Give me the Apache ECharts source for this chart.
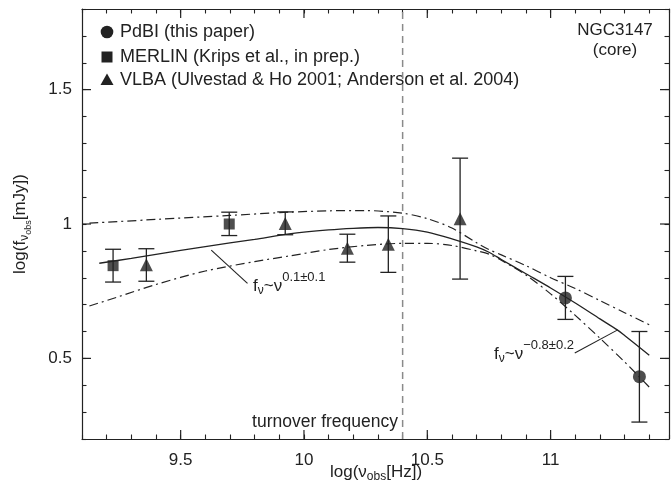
<!DOCTYPE html>
<html>
<head>
<meta charset="utf-8">
<script src="https://cdn.jsdelivr.net/npm/echarts@6/dist/echarts.min.js"></script>
<style>
  html, body { margin: 0; padding: 0; background: #fff; }
  #chart { width: 672px; height: 482px; }
</style>
</head>
<body>
<div id="chart"></div>
<script>
// ---- measurements: log frequency [Hz], log flux [mJy], error range ----
const pdbiFreq  = [11.06, 11.36];
const pdbiFlux  = [0.725, 0.432];
const pdbiLow   = [0.645, 0.263];
const pdbiHigh  = [0.805, 0.600];

const merlinFreq = [9.226, 9.697];
const merlinFlux = [0.845, 1.000];
const merlinLow  = [0.784, 0.957];
const merlinHigh = [0.906, 1.044];

const vlbaFreq = [9.361, 9.924, 10.176, 10.342, 10.633];
const vlbaFlux = [0.848, 1.002, 0.910, 0.925, 1.020];
const vlbaLow  = [0.787, 0.960, 0.858, 0.820, 0.795];
const vlbaHigh = [0.908, 1.045, 0.962, 1.030, 1.245];

// ---- fitted broken power law and its uncertainty envelope ----
const fitFreq = [9.17, 9.3, 9.4, 9.6, 9.8, 9.94, 10.1, 10.2, 10.3, 10.4, 10.5, 10.6, 10.7, 10.75, 10.8, 10.9, 11.0, 11.1, 11.2, 11.27, 11.3, 11.4];
const fitFlux = [0.854, 0.872, 0.887, 0.916, 0.943, 0.963, 0.978, 0.984, 0.987, 0.983, 0.970, 0.945, 0.915, 0.895, 0.868, 0.815, 0.762, 0.706, 0.647, 0.606, 0.585, 0.512];

const upperFreq = [9.13, 9.4, 9.7, 9.94, 10.1, 10.25, 10.4, 10.5, 10.6, 10.7, 10.75, 10.8, 10.9, 11.0, 11.1, 11.2, 11.3, 11.4];
const upperFlux = [1.003, 1.017, 1.032, 1.044, 1.049, 1.050, 1.040, 1.020, 0.985, 0.930, 0.905, 0.885, 0.845, 0.800, 0.760, 0.715, 0.670, 0.625];

const lowerFreq = [9.13, 9.25, 9.4, 9.6, 9.8, 9.94, 10.1, 10.25, 10.4, 10.5, 10.6, 10.7, 10.75, 10.8, 10.9, 11.0, 11.1, 11.2, 11.3, 11.4];
const lowerFlux = [0.695, 0.730, 0.775, 0.825, 0.860, 0.881, 0.905, 0.920, 0.928, 0.928, 0.920, 0.900, 0.888, 0.865, 0.810, 0.740, 0.660, 0.575, 0.487, 0.393];

// turnover frequency marker
const turnoverFreq = 10.4;

// pointer lines from the slope labels to the fit
const lowSlopePointer  = [[9.624, 0.903], [9.771, 0.779]];
const highSlopePointer = [[11.098, 0.520], [11.272, 0.606]];

// axis ranges and labelled ticks
const xMin = 9.1, xMax = 11.48, yMin = 0.2, yMax = 1.8;
const xMajorTicks = [9.5, 10, 10.5, 11];
const yMajorTicks = [0.5, 1, 1.5];

const INK = '#222';
const FONT = '"Liberation Sans", Arial, sans-serif';

const zip = (a, b) => a.map((v, i) => [v, b[i]]);
const zip3 = (a, b, c) => a.map((v, i) => [v, b[i], c[i]]);

const measureCtx = document.createElement('canvas').getContext('2d');
function textWidth(str, size) {
  measureCtx.font = size + 'px ' + FONT;
  return measureCtx.measureText(str).width;
}
// lay out text pieces (main text, sub/superscripts) on one baseline
function composite(parts, anchor) {
  const total = parts.reduce((s, p) => s + textWidth(p[0], p[1]), 0);
  let x = anchor === 'center' ? -total / 2 : anchor === 'right' ? -total : 0;
  const out = [];
  for (const [t, size, dy] of parts) {
    out.push({
      type: 'text', x: x, y: dy,
      style: { text: t, font: size + 'px ' + FONT, fill: INK,
               align: 'left', verticalAlign: 'middle', textAlign: 'left', textVerticalAlign: 'middle' }
    });
    x += textWidth(t, size);
  }
  return out;
}
function label(text, x, y, size, align) {
  return { type: 'text', x: x, y: y,
    style: { text: text, font: size + 'px ' + FONT, fill: INK,
             align: align, verticalAlign: 'middle', textAlign: align, textVerticalAlign: 'middle' } };
}

function errorBars(params, api) {
  const x = api.value(0);
  const lo = api.coord([x, api.value(1)]);
  const hi = api.coord([x, api.value(2)]);
  const w = 8;
  const st = { stroke: INK, lineWidth: 1.3 };
  return { type: 'group', children: [
    { type: 'line', shape: { x1: lo[0], y1: lo[1], x2: hi[0], y2: hi[1] }, style: st },
    { type: 'line', shape: { x1: lo[0] - w, y1: lo[1], x2: lo[0] + w, y2: lo[1] }, style: st },
    { type: 'line', shape: { x1: hi[0] - w, y1: hi[1], x2: hi[0] + w, y2: hi[1] }, style: st }
  ]};
}

const MAJOR = 9;
function xMajor(params, api) {
  const v = api.value(0);
  const b = api.coord([v, yMin]), t = api.coord([v, yMax]);
  const st = { stroke: INK, lineWidth: 1.2 };
  return { type: 'group', children: [
    { type: 'line', shape: { x1: b[0], y1: b[1], x2: b[0], y2: b[1] - MAJOR }, style: st },
    { type: 'line', shape: { x1: t[0], y1: t[1], x2: t[0], y2: t[1] + MAJOR }, style: st }
  ]};
}
function yMajor(params, api) {
  const v = api.value(1);
  const l = api.coord([xMin, v]), r = api.coord([xMax, v]);
  const st = { stroke: INK, lineWidth: 1.2 };
  return { type: 'group', children: [
    { type: 'line', shape: { x1: l[0], y1: l[1], x2: l[0] + MAJOR, y2: l[1] }, style: st },
    { type: 'line', shape: { x1: r[0], y1: r[1], x2: r[0] - MAJOR, y2: r[1] }, style: st }
  ]};
}

const halfStep = v => Math.abs(v * 2 - Math.round(v * 2)) < 1e-6;
const tickText = v => halfStep(v) ? String(Math.round(v * 10) / 10) : '';

const axisCommon = {
  type: 'value', interval: 0.1, splitLine: { show: false },
  axisLine: { show: true, onZero: false, lineStyle: { color: INK, width: 1.2 } },
  axisTick: { show: true, inside: true, length: 4.5, lineStyle: { color: INK, width: 1.1 } }
};

const dashDot = [9, 4, 2, 4];

const option = {
  animation: false,
  grid: { left: 82, right: 1, top: 9, bottom: 43 },
  xAxis: [
    Object.assign({}, axisCommon, { min: xMin, max: xMax, position: 'bottom',
      axisLabel: { show: true, margin: 13, formatter: tickText, color: INK, fontSize: 17, fontFamily: FONT } }),
    Object.assign({}, axisCommon, { min: xMin, max: xMax, position: 'top', axisLabel: { show: false } })
  ],
  yAxis: [
    Object.assign({}, axisCommon, { min: yMin, max: yMax, position: 'left',
      axisLabel: { show: true, margin: 10, formatter: tickText, color: INK, fontSize: 17, fontFamily: FONT } }),
    Object.assign({}, axisCommon, { min: yMin, max: yMax, position: 'right', axisLabel: { show: false } })
  ],
  series: [
    { type: 'custom', name: 'xmajor', renderItem: xMajor, data: xMajorTicks.map(v => [v, yMin]), clip: false, silent: true },
    { type: 'custom', name: 'ymajor', renderItem: yMajor, data: yMajorTicks.map(v => [xMin, v]), clip: false, silent: true },
    { type: 'line', name: 'turnover', data: [[turnoverFreq, yMin], [turnoverFreq, yMax]], symbol: 'none',
      lineStyle: { color: '#8a8a8a', width: 1.5, type: [7, 5] } },
    { type: 'line', name: 'fit', data: zip(fitFreq, fitFlux), symbol: 'none', smooth: 0.3,
      lineStyle: { color: INK, width: 1.3 } },
    { type: 'line', name: 'upper', data: zip(upperFreq, upperFlux), symbol: 'none', smooth: 0.3,
      lineStyle: { color: INK, width: 1.2, type: dashDot } },
    { type: 'line', name: 'lower', data: zip(lowerFreq, lowerFlux), symbol: 'none', smooth: 0.3,
      lineStyle: { color: INK, width: 1.2, type: dashDot } },
    { type: 'line', name: 'lowPointer', data: lowSlopePointer, symbol: 'none', lineStyle: { color: INK, width: 1.1 } },
    { type: 'line', name: 'highPointer', data: highSlopePointer, symbol: 'none', lineStyle: { color: INK, width: 1.1 } },
    { type: 'custom', name: 'errPdBI', renderItem: errorBars, data: zip3(pdbiFreq, pdbiLow, pdbiHigh), encode: { x: 0, y: [1, 2] } },
    { type: 'custom', name: 'errMERLIN', renderItem: errorBars, data: zip3(merlinFreq, merlinLow, merlinHigh), encode: { x: 0, y: [1, 2] } },
    { type: 'custom', name: 'errVLBA', renderItem: errorBars, data: zip3(vlbaFreq, vlbaLow, vlbaHigh), encode: { x: 0, y: [1, 2] } },
    { type: 'scatter', name: 'PdBI', data: zip(pdbiFreq, pdbiFlux), symbol: 'circle', symbolSize: 13, itemStyle: { color: INK } },
    { type: 'scatter', name: 'MERLIN', data: zip(merlinFreq, merlinFlux), symbol: 'rect', symbolSize: 11, itemStyle: { color: INK } },
    { type: 'scatter', name: 'VLBA', data: zip(vlbaFreq, vlbaFlux), symbol: 'triangle', symbolSize: 13, itemStyle: { color: INK } }
  ],
  graphic: [
    // legend
    { type: 'circle', shape: { cx: 107, cy: 32, r: 6.3 }, style: { fill: INK } },
    { type: 'rect', shape: { x: 101.5, y: 51.5, width: 11, height: 11 }, style: { fill: INK } },
    { type: 'polygon', shape: { points: [[107, 73.5], [113.5, 85], [100.5, 85]] }, style: { fill: INK } },
    label('PdBI (this paper)', 120, 32, 18, 'left'),
    label('MERLIN (Krips et al., in prep.)', 120, 57, 18, 'left'),
    label('VLBA (Ulvestad & Ho 2001; Anderson et al. 2004)', 120, 80, 18, 'left'),
    // source name
    label('NGC3147', 615, 30, 17, 'center'),
    label('(core)', 615, 50, 17, 'center'),
    // turnover
    label('turnover frequency', 398, 422, 17.5, 'right'),
    // slope annotations
    { type: 'group', x: 253, y: 286, children: composite([['f', 17, 0], ['\u03bd', 12, 5], ['~\u03bd', 17, 0], ['0.1\u00b10.1', 13, -9]], 'left') },
    { type: 'group', x: 574, y: 354, children: composite([['f', 17, 0], ['\u03bd', 12, 5], ['~\u03bd', 17, 0], ['\u22120.8\u00b10.2', 13, -9]], 'right') },
    // axis titles
    { type: 'group', x: 376, y: 472, children: composite([['log(\u03bd', 17, 0], ['obs', 12, 5], ['[Hz])', 17, 0]], 'center') },
    { type: 'group', x: 20, y: 224, rotation: Math.PI / 2,
      children: composite([['log(f', 17, 0], ['\u03bd', 12, 5], ['obs', 9, 9], ['[mJy])', 17, 0]], 'center') }
  ]
};

echarts.init(document.getElementById('chart')).setOption(option);
</script>
</body>
</html>
